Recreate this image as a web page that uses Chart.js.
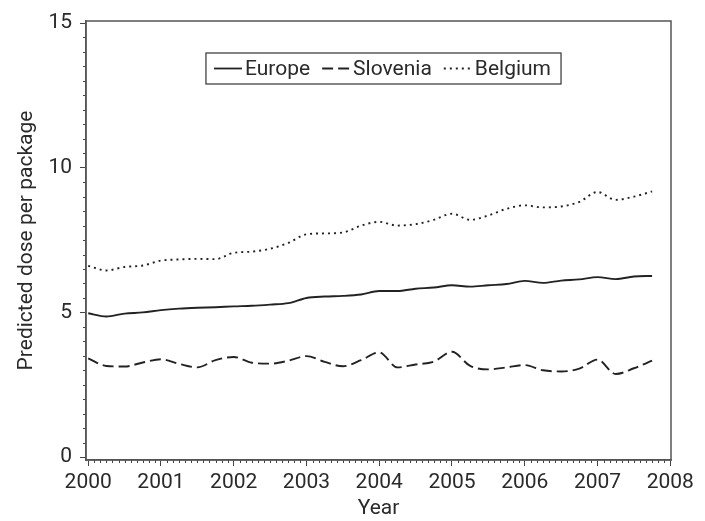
<!DOCTYPE html>
<html>
<head>
<meta charset="utf-8">
<script src="https://cdn.jsdelivr.net/npm/chart.js@4.4.0/dist/chart.umd.min.js"></script>
<style>
  html, body { margin: 0; padding: 0; background: #fff; }
</style>
</head>
<body>
<canvas id="chart" width="705" height="521"></canvas>
<script>
// quarterly values
var quarters = [2000, 2000.25, 2000.5, 2000.75, 2001, 2001.25, 2001.5, 2001.75,
                2002, 2002.25, 2002.5, 2002.75, 2003, 2003.25, 2003.5, 2003.75,
                2004, 2004.25, 2004.5, 2004.75, 2005, 2005.25, 2005.5, 2005.75,
                2006, 2006.25, 2006.5, 2006.75, 2007, 2007.25, 2007.5, 2007.75];
var europe = [4.97, 4.86, 4.96, 5.00, 5.08, 5.13, 5.16, 5.18,
              5.21, 5.23, 5.27, 5.32, 5.50, 5.55, 5.57, 5.62,
              5.74, 5.74, 5.82, 5.86, 5.94, 5.89, 5.94, 5.98,
              6.09, 6.02, 6.10, 6.14, 6.22, 6.15, 6.24, 6.26];
var slovenia = [3.41, 3.15, 3.13, 3.27, 3.38, 3.22, 3.10, 3.35,
                3.46, 3.26, 3.23, 3.33, 3.49, 3.29, 3.14, 3.35,
                3.62, 3.10, 3.20, 3.30, 3.64, 3.15, 3.03, 3.10,
                3.18, 3.00, 2.96, 3.06, 3.37, 2.87, 3.07, 3.33];
var belgium = [6.61, 6.45, 6.57, 6.62, 6.79, 6.83, 6.85, 6.84,
               7.06, 7.10, 7.20, 7.40, 7.70, 7.73, 7.76, 8.00,
               8.13, 8.00, 8.05, 8.20, 8.41, 8.20, 8.35, 8.58,
               8.70, 8.63, 8.66, 8.82, 9.16, 8.89, 9.00, 9.18];
var xTickLabels = [2000, 2001, 2002, 2003, 2004, 2005, 2006, 2007, 2008];
var yTickLabels = [0, 5, 10, 15];

var FONT = { family: 'Roboto', size: 21 };
var INK = '#2a2a2a';

function pts(ys) {
    return quarters.map(function (q, i) { return { x: q, y: ys[i] }; });
}

function lineSet(label, ys, dash) {
    return {
        label: label,
        data: pts(ys),
        borderColor: '#222',
        borderWidth: 1.9,
        borderDash: dash,
        pointRadius: 0,
        fill: false,
        cubicInterpolationMode: 'monotone'
    };
}

// minor ticks, the box around the plot and the boxed legend
var extras = {
    id: 'extras',
    afterDraw: function (chart) {
        var ctx = chart.ctx, xs = chart.scales.x, ys = chart.scales.y, a = chart.chartArea;
        ctx.save();
        ctx.strokeStyle = '#444';
        ctx.lineWidth = 1;
        ctx.beginPath();
        for (var m = 1; m < 96; m++) {
            if (m % 12 === 0) continue;
            var px = Math.round(xs.getPixelForValue(2000 + m / 12)) + 0.5;
            ctx.moveTo(px, a.bottom);
            ctx.lineTo(px, a.bottom + 3);
        }
        for (var h = 1; h < 30; h++) {
            if (h % 10 === 0) continue;
            var py = Math.round(ys.getPixelForValue(h / 2)) + 0.5;
            ctx.moveTo(a.left, py);
            ctx.lineTo(a.left - 3, py);
        }
        ctx.stroke();

        ctx.strokeStyle = '#555';
        ctx.lineWidth = 1.5;
        ctx.strokeRect(a.left, a.top, a.width, a.height);

        // legend
        ctx.font = FONT.size + 'px ' + FONT.family;
        var sets = chart.data.datasets;
        var sample = 28, gapText = 3, gapItem = 12, padL = 8, padR = 10;
        var w = padL + padR + gapItem * (sets.length - 1);
        sets.forEach(function (d) { w += sample + gapText + ctx.measureText(d.label).width; });
        var bx = a.left + (a.width - w) / 2 + 5, by = a.top + 32, bh = 31;
        ctx.strokeStyle = '#333';
        ctx.lineWidth = 1.2;
        ctx.strokeRect(bx, by, w, bh);
        var cy = by + bh / 2, x = bx + padL;
        ctx.textBaseline = 'middle';
        ctx.fillStyle = INK;
        sets.forEach(function (d) {
            ctx.strokeStyle = '#222';
            ctx.lineWidth = 1.8;
            ctx.setLineDash(d.borderDash || []);
            ctx.beginPath();
            ctx.moveTo(x, cy);
            ctx.lineTo(x + sample, cy);
            ctx.stroke();
            ctx.setLineDash([]);
            x += sample + gapText;
            ctx.fillText(d.label, x, cy + 1);
            x += ctx.measureText(d.label).width + gapItem;
        });
        ctx.restore();
    }
};

new Chart(document.getElementById('chart').getContext('2d'), {
    type: 'line',
    data: {
        datasets: [
            lineSet('Europe', europe, []),
            lineSet('Slovenia', slovenia, [11, 5]),
            lineSet('Belgium', belgium, [2, 4])
        ]
    },
    options: {
        responsive: false,
        animation: false,
        layout: { padding: { left: 0, right: 34, top: 21, bottom: 0 } },
        plugins: { legend: { display: false }, tooltip: { enabled: false } },
        scales: {
            x: {
                type: 'linear',
                min: 1999.97,
                max: 2008.01,
                afterBuildTicks: function (s) { s.ticks = xTickLabels.map(function (v) { return { value: v }; }); },
                afterFit: function (s) { s.height = 61; },
                ticks: { autoSkip: false, maxRotation: 0, padding: 4, font: FONT, color: INK,
                         callback: function (v) { return String(v); } },
                grid: { drawOnChartArea: false, tickLength: 6, color: '#444' },
                border: { color: '#555', width: 1.5 },
                title: { display: true, text: 'Year', font: FONT, color: INK, padding: { top: 0, bottom: 0 } }
            },
            y: {
                min: -0.1,
                max: 15.07,
                afterBuildTicks: function (s) { s.ticks = yTickLabels.map(function (v) { return { value: v }; }); },
                afterFit: function (s) { s.width = 86; },
                ticks: { padding: 8, font: FONT, color: INK },
                grid: { drawOnChartArea: false, tickLength: 6, color: '#444' },
                border: { color: '#555', width: 1.5 },
                title: { display: true, text: 'Predicted dose per package', font: FONT, color: INK, padding: { top: 14, bottom: 0 } }
            }
        }
    },
    plugins: [extras]
});
</script>
</body>
</html>
